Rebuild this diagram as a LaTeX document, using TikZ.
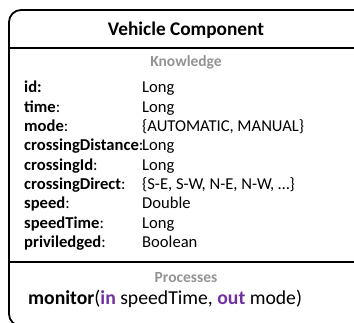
\documentclass[tikz,border=0pt]{standalone}
\usepackage{fontspec}
\setmainfont{Carlito}
\definecolor{headgray}{HTML}{939393}
\definecolor{kwpurple}{HTML}{7030A0}
\tikzset{
  frame/.style={line width=1.8pt, draw=black},
  title/.style={font=\fontsize{19.3}{22}\selectfont\bfseries, anchor=base, inner sep=0pt},
  section/.style={font=\fontsize{15.5}{18}\selectfont\bfseries, text=headgray, anchor=base, inner sep=0pt},
  attr/.style={font=\fontsize{16.6}{19}\selectfont, anchor=base west, inner sep=0pt},
  proc/.style={font=\fontsize{19.7}{22}\selectfont, anchor=base west, inner sep=0pt},
}
\begin{document}
\begin{tikzpicture}[x=1pt, y=-1pt]
  \useasboundingbox (0,0) rectangle (354,323);
  \clip (0,0) rectangle (354,323);
  % component box, running off the right and bottom edges
  \draw[frame, rounded corners=12pt] (9,10) rectangle (380,326);
  \draw[frame] (9,48) -- (360,48);
  \draw[frame] (9,262) -- (360,262);

  \node[title] (name) at (186,36) {Vehicle Component};
  \node[section] (know) at (186,67) {Knowledge};

  % attributes: name column and type column
  \foreach \k/\lab/\typ in {
    0/{\textbf{id:}}/{Long},
    1/{\textbf{time}:}/{Long},
    2/{\textbf{mode}:}/{\{AUTOMATIC, MANUAL\}},
    3/{\textbf{crossingDistance}:}/{Long},
    4/{\textbf{crossingId}:}/{Long},
    5/{\textbf{crossingDirect}:}/{\{S-E, S-W, N-E, N-W, …\}},
    6/{\textbf{speed}:}/{Double},
    7/{\textbf{speedTime}:}/{Long},
    8/{\textbf{priviledged}:}/{Boolean}} {
    \node[attr] (lab\k) at (24,{93+19.3*\k}) {\lab};
    \node[attr] (typ\k) at (142,{93+19.3*\k}) {\typ};
  }

  \node[section] (procs) at (186,283) {Processes};
  \node[proc] (monitor) at (28,305)
    {\textbf{monitor}(\textcolor{kwpurple}{\textbf{in}} speedTime, \textcolor{kwpurple}{\textbf{out}} mode)};
\end{tikzpicture}
\end{document}
